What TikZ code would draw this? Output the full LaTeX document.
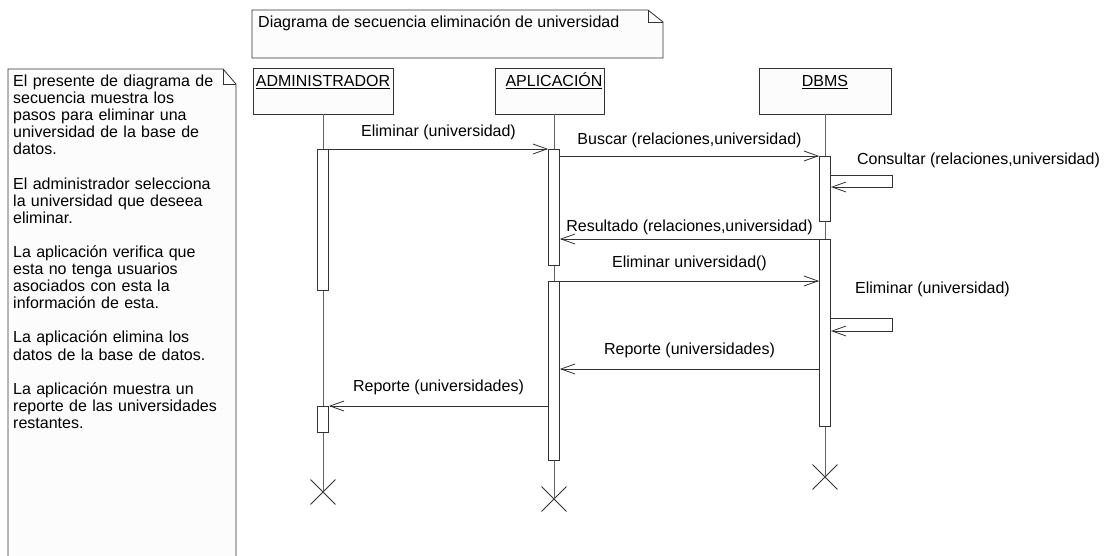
\documentclass[tikz,border=0pt]{standalone}
\usepackage{fontspec}
\setmainfont{Liberation Sans}
\usetikzlibrary{arrows.meta, positioning, calc, shapes.misc}
\definecolor{seqline}{RGB}{50,50,50}
\definecolor{lifegray}{RGB}{100,100,100}
\definecolor{notefill}{RGB}{252,252,252}

\begin{document}
\begin{tikzpicture}[x=1pt, y=-1pt,
  font=\fontsize{16}{17.1}\selectfont,
  actor/.style={draw=seqline, fill=notefill, line width=0.8pt, minimum height=46pt, inner sep=0pt},
  actname/.style={anchor=base, inner sep=0pt},
  actbar/.style={draw=seqline, fill=white, line width=0.8pt, minimum width=11pt, inner sep=0pt, anchor=north},
  lifeline/.style={draw=lifegray, line width=0.8pt},
  msg/.style={draw=seqline, line width=0.8pt, -{Straight Barb[length=14pt, width=10pt]}},
  msglabel/.style={midway, anchor=base, inner sep=0pt},
  endmark/.style={cross out, draw=seqline, line width=0.9pt, minimum size=24pt, inner sep=0pt},
  notepath/.style={draw=seqline, fill=notefill, line width=0.8pt}
]
  \path[use as bounding box, fill=white] (0,0) rectangle (1115,556);

  % notes
  \draw[notepath] (252,10) -- (648,10) -- (663,22) -- (663,58) -- (252,58) -- cycle;
  \draw[notepath, fill=none] (648,10) -- (648,22) -- (663,22);
  \node[anchor=base west, inner sep=0pt] (title) at (258,27.5) {Diagrama de secuencia eliminación de universidad};

  \draw[notepath] (8,69) -- (223,69) -- (236,84) -- (236,570) -- (8,570) -- cycle;
  \draw[notepath, fill=none] (223,69) -- (223,84) -- (236,84);
  \node[anchor=base west, text width=222pt, align=left, inner sep=0pt] (desc) at (13,86.5) {
    El presente de diagrama de\\
    secuencia muestra los\\
    pasos para eliminar una\\
    universidad de la base de\\
    datos.\\[17.1pt]
    El administrador selecciona\\
    la universidad que deseea\\
    eliminar.\\[17.1pt]
    La aplicación verifica que\\
    esta no tenga usuarios\\
    asociados con esta la\\
    información de esta.\\[17.1pt]
    La aplicación elimina los\\
    datos de la base de datos.\\[17.1pt]
    La aplicación muestra un\\
    reporte de las universidades\\
    restantes.
  };

  % actors
  \node[actor, minimum width=140pt] (adm) at (323,91) {};
  \node[actname] (admname) at (323,87) {\underline{ADMINISTRADOR}};
  \node[actor, minimum width=109pt] (app) at (549.5,91) {};
  \node[actname] (appname) at (554,87) {\underline{APLICACIÓN}};
  \node[actor, minimum width=132pt] (db) at (825,91) {};
  \node[actname] (dbname) at (825,87) {\underline{DBMS}};

  % lifelines
  \node[endmark] (admX) at (323,492) {};
  \node[endmark] (appX) at (554,499) {};
  \node[endmark] (dbX) at (825,477) {};
  \draw[lifeline] (admname |- adm.south) -- (admX.center);
  \draw[lifeline] (appname |- app.south) -- (appX.center);
  \draw[lifeline] (dbname |- db.south) -- (dbX.center);

  % activations
  \node[actbar, minimum height=141pt] (admA) at (323,149) {};
  \node[actbar, minimum height=26pt] (admB) at (323,406) {};
  \node[actbar, minimum height=116pt] (appA) at (554,149) {};
  \node[actbar, minimum height=179pt] (appB) at (554,281) {};
  \node[actbar, minimum height=65pt] (dbA) at (825,156) {};
  \node[actbar, minimum height=187pt] (dbB) at (825,239) {};

  % messages
  \coordinate (rep1) at (0,369);
  \draw[msg] (admA.north east) -- (appA.north west) node[msglabel, yshift=12pt] {Eliminar (universidad)};
  \draw[msg] (appA.east |- dbA.north) -- (dbA.north west) node[msglabel, yshift=11pt] {Buscar (relaciones,universidad)};
  \draw[msg] ($(dbA.north east)+(0,19)$) -- ++(61,0) -- ++(0,12) -- ++(-61,0);
  \node[anchor=base west, inner sep=0pt] (consult) at ($(dbA.north east)+(26,8.3)$) {Consultar (relaciones,universidad)};
  \draw[msg] (dbB.north west) -- (appA.east |- dbB.north) node[msglabel, yshift=8pt] {Resultado (relaciones,universidad)};
  \draw[msg] (appB.north east) -- (dbB.west |- appB.north) node[msglabel, yshift=14pt] {Eliminar universidad()};
  \draw[msg] ($(dbB.north east)+(0,79)$) -- ++(61,0) -- ++(0,13) -- ++(-61,0);
  \node[anchor=base west, inner sep=0pt] (delete) at ($(dbB.north east)+(24,54.3)$) {Eliminar (universidad)};
  \draw[msg] (dbB.west |- rep1) -- (appB.east |- rep1) node[msglabel, yshift=15pt] {Reporte (universidades)};
  \draw[msg] (appB.west |- admB.north) -- (admB.north east) node[msglabel, yshift=15pt] {Reporte (universidades)};
\end{tikzpicture}
\end{document}
